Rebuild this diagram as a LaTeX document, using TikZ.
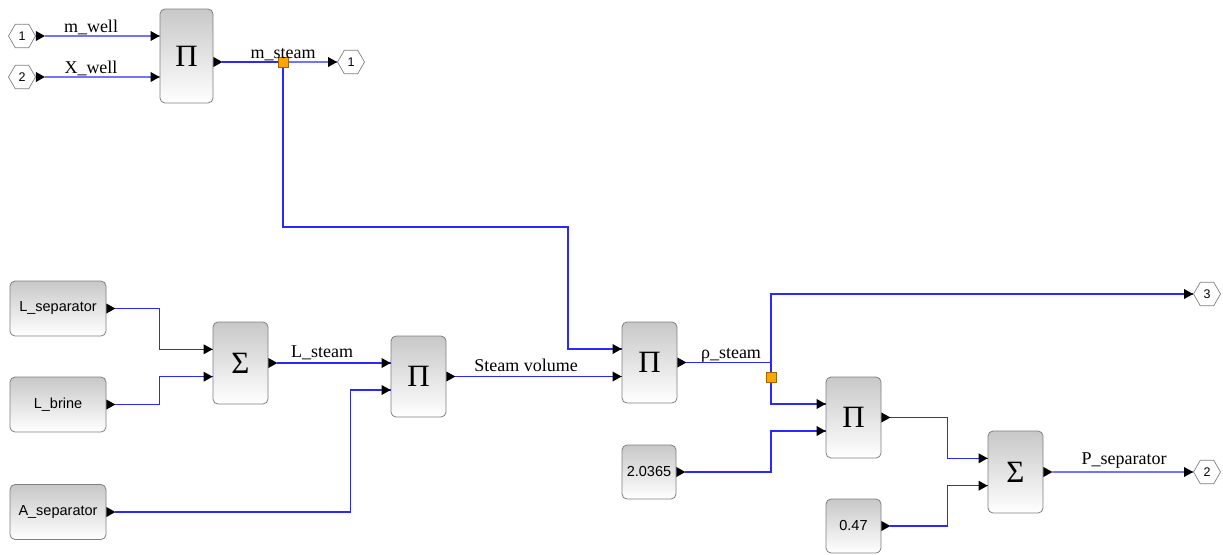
\documentclass[tikz,border=0pt]{standalone}
\usepackage{fontspec}
\setmainfont{Liberation Serif}
\newfontfamily\boxfont{Liberation Sans}
\usetikzlibrary{arrows.meta,shapes.geometric,calc}
\definecolor{wireblue}{RGB}{40,40,255}
\definecolor{blkgray}{RGB}{128,128,128}
\definecolor{blktop}{RGB}{200,200,200}
\definecolor{splitor}{RGB}{255,165,0}
\newcommand\outport[2]{\fill[black] (#1) -- ++(0,5) -- ++(9,-5) -- ++(-9,-5) -- cycle; \coordinate (#2) at ($(#1)+(9,0)$);}
\newcommand\inport[1]{\fill[black] (#1) -- ++(-9,5) -- ++(0,-10) -- cycle;}
\tikzset{
  blk/.style={draw=blkgray, line width=0.8pt, rounded corners=5pt, top color=blktop, bottom color=white, inner sep=0pt, minimum width=55, minimum height=81, font=\fontsize{31}{31}\selectfont},
  cbox/.style={blk, minimum width=96, minimum height=55, font=\boxfont\fontsize{14.5}{16}\selectfont},
  hexp/.style={draw=blkgray, line width=0.7pt, fill=white, regular polygon, regular polygon sides=6, minimum size=27, inner sep=0pt, font=\boxfont\fontsize{12.5}{12.5}\selectfont},
  wire/.style={draw=wireblue, line width=1.4pt},
  splitbox/.style={draw={rgb,255:red,160;green,100;blue,0}, fill=splitor, minimum size=10, inner sep=0pt, line width=0.6pt},
  wlabel/.style={anchor=base, inner sep=0pt, font=\fontsize{18}{18}\selectfont}
}
\begin{document}
\begin{tikzpicture}[x=1pt,y=-1pt]
\useasboundingbox (0,0) rectangle (1223,554);
\fill[white] (0,0) rectangle (1223,554);
% blocks
\node[hexp] (in1) at (22,36) {1};
\node[hexp] (in2) at (22,77) {2};
\node[blk, minimum width=53, minimum height=94] (P1) at (186.5,56) {Π};
\node[hexp] (out1) at (351,62) {1};
\node[cbox] (Ls) at (58,308.5) {L\_separator};
\node[cbox] (Lb) at (58,404.5) {L\_brine};
\node[cbox] (As) at (58,512) {A\_separator};
\node[blk, minimum height=82] (S1) at (240.5,363) {Σ};
\node[blk] (P2) at (418.5,376.5) {Π};
\node[blk] (P3) at (649.5,362.5) {Π};
\node[cbox, minimum width=54, minimum height=54] (C1) at (649,472) {2.0365};
\node[blk] (P4) at (853.5,417.5) {Π};
\node[cbox, minimum width=55, minimum height=54] (C2) at (853.5,526) {0.47};
\node[blk, minimum height=82] (S2) at (1015.5,472) {Σ};
\node[hexp] (out3) at (1207,294) {3};
\node[hexp] (out2) at (1207,472) {2};
% output ports
\outport{in1.east}{in1o}
\outport{in2.east}{in2o}
\outport{$(P1.east)+(0,6)$}{P1o}
\outport{Ls.east}{Lso}
\outport{Lb.east}{Lbo}
\outport{As.east}{Aso}
\outport{S1.east}{S1o}
\outport{P2.east}{P2o}
\outport{P3.east}{P3o}
\outport{C1.east}{C1o}
\outport{P4.east}{P4o}
\outport{C2.east}{C2o}
\outport{S2.east}{S2o}
% input port coordinates
\coordinate (P1i1) at ($(P1.west)+(0,-20)$);
\coordinate (P1i2) at ($(P1.west)+(0,21)$);
\coordinate (S1i1) at ($(S1.west)+(0,-13.7)$);
\coordinate (S1i2) at ($(S1.west)+(0,13.7)$);
\coordinate (P2i1) at ($(P2.west)+(0,-13.5)$);
\coordinate (P2i2) at ($(P2.west)+(0,13.5)$);
\coordinate (P3i1) at ($(P3.west)+(0,-13.5)$);
\coordinate (P3i2) at ($(P3.west)+(0,13.5)$);
\coordinate (P4i1) at ($(P4.west)+(0,-13.5)$);
\coordinate (P4i2) at ($(P4.west)+(0,13.5)$);
\coordinate (S2i1) at ($(S2.west)+(0,-13.7)$);
\coordinate (S2i2) at ($(S2.west)+(0,13.7)$);
\coordinate (bend1) at (568,227);
% connectors
\draw[wire] (in1o) -- (P1i1);
\draw[wire] (in2o) -- (P1i2);
\node[splitbox] (split1) at (283,62) {};
\draw[wire] (P1o) -- (split1.west);
\draw[wire] (split1.east) -- (out1.west);
\draw[wire] (split1.south) |- (bend1) |- (P3i1);
\draw[wire] (Lso) -- ++(44,0) |- (S1i1);
\draw[wire] (Lbo) -- ++(44,0) |- (S1i2);
\draw[wire] (S1o) -- (S1o -| P2.west);
\draw[wire] (Aso) -- ++(235,0) |- (P2i2);
\draw[wire] (P2o) -- (P2o -| P3.west);
\node[splitbox] (split2) at (771,377) {};
\draw[wire] (P3o) -| (split2.north);
\draw[wire] (split2.center) |- (out3.west);
\draw[wire] (split2.south) |- (P4i1);
\draw[wire] (C1o) -- (C1o -| split2) |- (P4i2);
\draw[wire] (P4o) -- ++(57,0) |- (S2i1);
\draw[wire] (C2o) -- ++(57,0) |- (S2i2);
\draw[wire] (S2o) -- (out2.west);
\node[splitbox] at (split2) {};
\node[splitbox] at (split1) {};
% input ports (arrowheads)
\inport{P1i1}\inport{P1i2}
\inport{S1i1}\inport{S1i2}
\inport{P2i1}\inport{P2i2}
\inport{$(P2o -| P3.west)$}\inport{P3i1}
\inport{P4i1}\inport{P4i2}
\inport{S2i1}\inport{S2i2}
\inport{out1.west}\inport{out2.west}\inport{out3.west}
% labels
\node[wlabel] (lmw) at (91,32) {m\_well};
\node[wlabel] (lxw) at (91,73) {X\_well};
\node[wlabel] (lms) at (283,58) {m\_steam};
\node[wlabel] (lls) at (322,357) {L\_steam};
\node[wlabel] (lsv) at (526,371) {Steam volume};
\node[wlabel] (lrs) at (731,358) {ρ\_steam};
\node[wlabel] (lps) at (1124,464) {P\_separator};
\end{tikzpicture}
\end{document}
